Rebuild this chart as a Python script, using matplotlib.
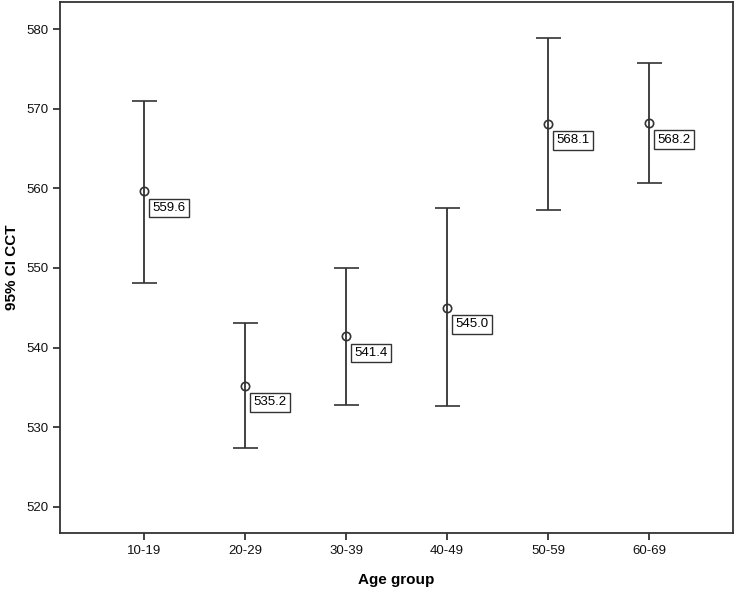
import matplotlib
matplotlib.use("Agg")
import matplotlib.pyplot as plt
import numpy as np

plt.rcParams['font.family'] = ['Liberation Sans', 'DejaVu Sans']

# data
groups = ['10-19', '20-29', '30-39', '40-49', '50-59', '60-69']
means = [559.6, 535.2, 541.4, 545.0, 568.1, 568.2]
upper = [571.0, 543.1, 550.0, 557.5, 578.9, 575.7]
lower = [548.1, 527.4, 532.8, 532.6, 557.3, 560.7]

fig = plt.figure(figsize=(7.37, 5.90), dpi=100)
ax = fig.add_axes([60 / 737, 57 / 590, 673 / 737, 531 / 590])

x = np.arange(len(groups))
m = np.array(means)
yerr = [m - np.array(lower), np.array(upper) - m]
col = '#333333'
ax.errorbar(x, m, yerr=yerr, fmt='o', mfc='none', mec=col, ms=6, mew=1.2,
            ecolor=col, elinewidth=1.3, capsize=9, capthick=1.3, color=col)

for xi, mi in zip(x, m):
    ax.annotate(f'{mi:.1f}', (xi, mi), xytext=(6, -12), textcoords='offset points',
                ha='left', va='center', fontsize=9.5,
                bbox=dict(boxstyle='square,pad=0.25', fc='white', ec=col, lw=1))

ax.set_xlim(-0.83, 5.83)
ax.set_ylim(516.7, 583.4)
ax.set_yticks(np.arange(520, 581, 10))
ax.set_xticks(x)
ax.set_xticklabels(groups)
ax.tick_params(direction='out', length=5, width=1.3, colors=col, labelcolor='#111111',
               labelsize=9.5)
for s in ax.spines.values():
    s.set_color(col)
    s.set_linewidth(1.3)

ax.set_xlabel('Age group', fontsize=11, fontweight='bold', labelpad=12)
ax.set_ylabel('95% CI CCT', fontsize=11, fontweight='bold', labelpad=5)

fig.savefig('out.png', dpi=100)
